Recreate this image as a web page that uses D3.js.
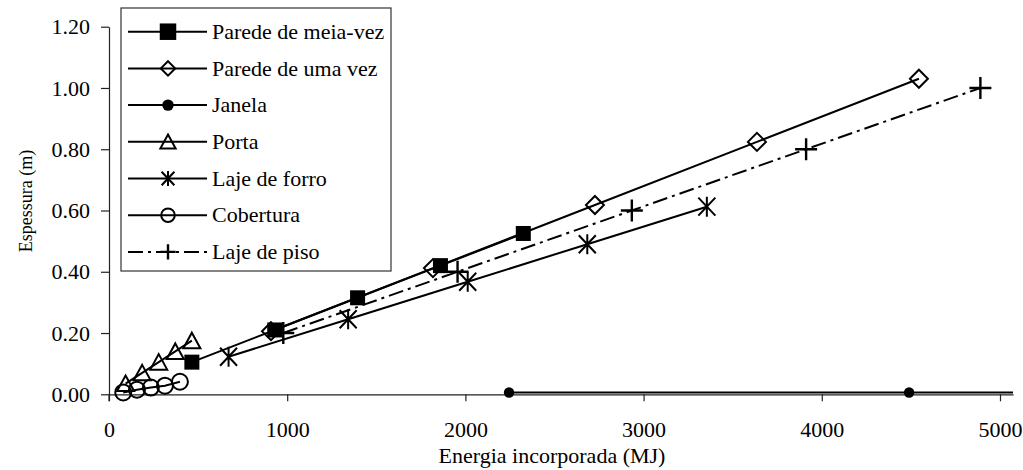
<!DOCTYPE html>
<html>
<head>
<meta charset="utf-8">
<script src="https://cdn.jsdelivr.net/npm/d3@7"></script>
<style>
  html, body { margin: 0; padding: 0; background: #fff; }
  svg { display: block; }
  svg text { font-family: "Liberation Serif", "Times New Roman", Tinos, Times, "DejaVu Serif", serif; fill: #000; }
</style>
</head>
<body>
<svg id="chart" width="1023" height="470"></svg>
<script>
// Espessura versus energia incorporada, por componente construtivo
const seriesNames = ["Parede de meia-vez", "Parede de uma vez", "Janela", "Porta",
                     "Laje de forro", "Cobertura", "Laje de piso"];

const meiaVezX = [465, 930, 1395, 1860, 2325];
const meiaVezY = [0.105, 0.21, 0.315, 0.42, 0.525];

const umaVezX = [909, 1818, 2727, 3636, 4545];
const umaVezY = [0.206, 0.412, 0.618, 0.824, 1.03];

const janelaX = [2245, 4490, 6735];
const janelaY = [0.006, 0.006, 0.006];

const portaX = [93, 186, 279, 372, 465];
const portaY = [0.035, 0.07, 0.105, 0.14, 0.175];

const forroX = [671, 1342, 2013, 2684, 3355];
const forroY = [0.1225, 0.245, 0.3675, 0.49, 0.6125];

const coberturaX = [80, 157, 235, 314, 398];
const coberturaY = [0.006, 0.015, 0.022, 0.028, 0.041];

const pisoX = [978, 1956, 2934, 3912, 4890];
const pisoY = [0.2, 0.4, 0.6, 0.8, 1.0];

const xTicks = [0, 1000, 2000, 3000, 4000, 5000];
const yTicks = [0, 0.2, 0.4, 0.6, 0.8, 1.0, 1.2];

const xTitle = "Energia incorporada (MJ)";
const yTitle = "Espessura (m)";

const series = [
  { name: seriesNames[0], xs: meiaVezX, ys: meiaVezY, marker: "square", dash: null },
  { name: seriesNames[1], xs: umaVezX, ys: umaVezY, marker: "diamond", dash: null },
  { name: seriesNames[2], xs: janelaX, ys: janelaY, marker: "dot", dash: null },
  { name: seriesNames[3], xs: portaX, ys: portaY, marker: "triangle", dash: null },
  { name: seriesNames[4], xs: forroX, ys: forroY, marker: "star", dash: null },
  { name: seriesNames[5], xs: coberturaX, ys: coberturaY, marker: "circle", dash: null },
  { name: seriesNames[6], xs: pisoX, ys: pisoY, marker: "plus", dash: "15,5,3,5" }
];

// Layout
const plot = { left: 109, right: 1013, top: 26.7, bottom: 394.3 };
const FONT = 22;
const SERIF = '"Liberation Serif", "Times New Roman", Tinos, Times, "DejaVu Serif", serif';

// legend markers are drawn a little smaller or larger than the plotted ones
const legendScale = { square: 1.1, diamond: 0.8, dot: 1.1, triangle: 0.9, star: 0.75, circle: 0.85, plus: 0.7 };

const svg = d3.select("#chart");

const x = d3.scaleLinear().domain([0, 5073]).range([plot.left, plot.right]);
const y = d3.scaleLinear().domain([0, 1.2]).range([plot.bottom, plot.top]);

svg.append("defs").append("clipPath").attr("id", "plotClip")
  .append("rect")
  .attr("x", plot.left).attr("y", 0)
  .attr("width", plot.right - plot.left).attr("height", plot.bottom + 12);

// Axes
const xAxis = d3.axisBottom(x).tickValues(xTicks).tickFormat(d3.format("d"))
  .tickSizeInner(7).tickSizeOuter(0).tickPadding(20);
const yAxis = d3.axisLeft(y).tickValues(yTicks).tickFormat(d3.format(".2f"))
  .tickSizeInner(8).tickSizeOuter(0).tickPadding(11);

const gx = svg.append("g").attr("transform", `translate(0,${plot.bottom})`).call(xAxis);
const gy = svg.append("g").attr("transform", `translate(${plot.left},0)`).call(yAxis);

[gx, gy].forEach(g => {
  g.attr("font-family", SERIF).attr("font-size", FONT);
  g.selectAll("path.domain").attr("stroke", "#222").attr("stroke-width", 1.2);
  g.selectAll(".tick line").attr("stroke", "#222").attr("stroke-width", 1.2);
  g.selectAll(".tick text")
    .attr("fill", "#000")
    .style("font-family", SERIF)
    .style("font-size", FONT + "px");
});
// y axis continues down to the first x tick
gy.append("line")
  .attr("x1", 0).attr("x2", 0)
  .attr("y1", plot.bottom).attr("y2", plot.bottom + 7)
  .attr("stroke", "#222").attr("stroke-width", 1.2);

// Axis titles
svg.append("text")
  .attr("x", 552).attr("y", 463)
  .attr("text-anchor", "middle")
  .style("font-family", SERIF)
  .style("font-size", FONT + "px")
  .text(xTitle);

svg.append("text")
  .attr("transform", `translate(32,201) rotate(-90)`)
  .attr("text-anchor", "middle")
  .style("font-family", SERIF)
  .style("font-size", "18px")
  .text(yTitle);

// Marker shapes
function drawMarker(g, type, cx, cy, k) {
  const m = g.append("g").attr("transform", `translate(${cx},${cy}) scale(${k})`);
  const sw = 2 / k;
  switch (type) {
    case "square":
      m.append("rect").attr("x", -7.5).attr("y", -7.5).attr("width", 15).attr("height", 15)
        .attr("fill", "#000");
      break;
    case "diamond":
      m.append("path").attr("d", "M0,-9L9,0L0,9L-9,0Z")
        .attr("fill", "none").attr("stroke", "#000").attr("stroke-width", sw);
      break;
    case "dot":
      m.append("circle").attr("r", 5.2).attr("fill", "#000");
      break;
    case "triangle":
      m.append("path").attr("d", "M0,-8L8.5,7.5L-8.5,7.5Z")
        .attr("fill", "none").attr("stroke", "#000").attr("stroke-width", sw);
      break;
    case "star":
      m.append("path").attr("d", "M-8.5,-9L8.5,9M-8.5,9L8.5,-9M0,-10L0,10")
        .attr("fill", "none").attr("stroke", "#000").attr("stroke-width", sw);
      break;
    case "circle":
      m.append("circle").attr("r", 8)
        .attr("fill", "none").attr("stroke", "#000").attr("stroke-width", sw);
      break;
    case "plus":
      m.append("path").attr("d", "M-11,0L11,0M0,-11L0,11")
        .attr("fill", "none").attr("stroke", "#000").attr("stroke-width", 2.4 / k);
      break;
  }
}

// Series lines and markers
const line = d3.line().x(d => x(d[0])).y(d => y(d[1]));
const plotG = svg.append("g").attr("clip-path", "url(#plotClip)");

series.forEach(s => {
  const pts = s.xs.map((v, i) => [v, s.ys[i]]);
  const sg = plotG.append("g");
  sg.append("path")
    .attr("d", line(pts))
    .attr("fill", "none")
    .attr("stroke", "#000")
    .attr("stroke-width", 2)
    .attr("stroke-dasharray", s.dash);
  pts.forEach(p => drawMarker(sg, s.marker, x(p[0]), y(p[1]), 1));
});

// Legend
const legend = { x: 121, y: 8, w: 270, h: 263, row0: 31.7, step: 36.7 };
const lg = svg.append("g");
lg.append("rect")
  .attr("x", legend.x).attr("y", legend.y)
  .attr("width", legend.w).attr("height", legend.h)
  .attr("fill", "#fff").attr("stroke", "#333").attr("stroke-width", 1.2);

series.forEach((s, i) => {
  const ry = legend.row0 + legend.step * i;
  lg.append("line")
    .attr("x1", 128).attr("x2", 207).attr("y1", ry).attr("y2", ry)
    .attr("stroke", "#000").attr("stroke-width", 2)
    .attr("stroke-dasharray", s.dash);
  drawMarker(lg, s.marker, 168, ry, legendScale[s.marker]);
  lg.append("text")
    .attr("x", 212).attr("y", ry).attr("dy", "0.33em")
    .style("font-family", SERIF)
    .style("font-size", FONT + "px")
    .text(s.name);
});
</script>
</body>
</html>
